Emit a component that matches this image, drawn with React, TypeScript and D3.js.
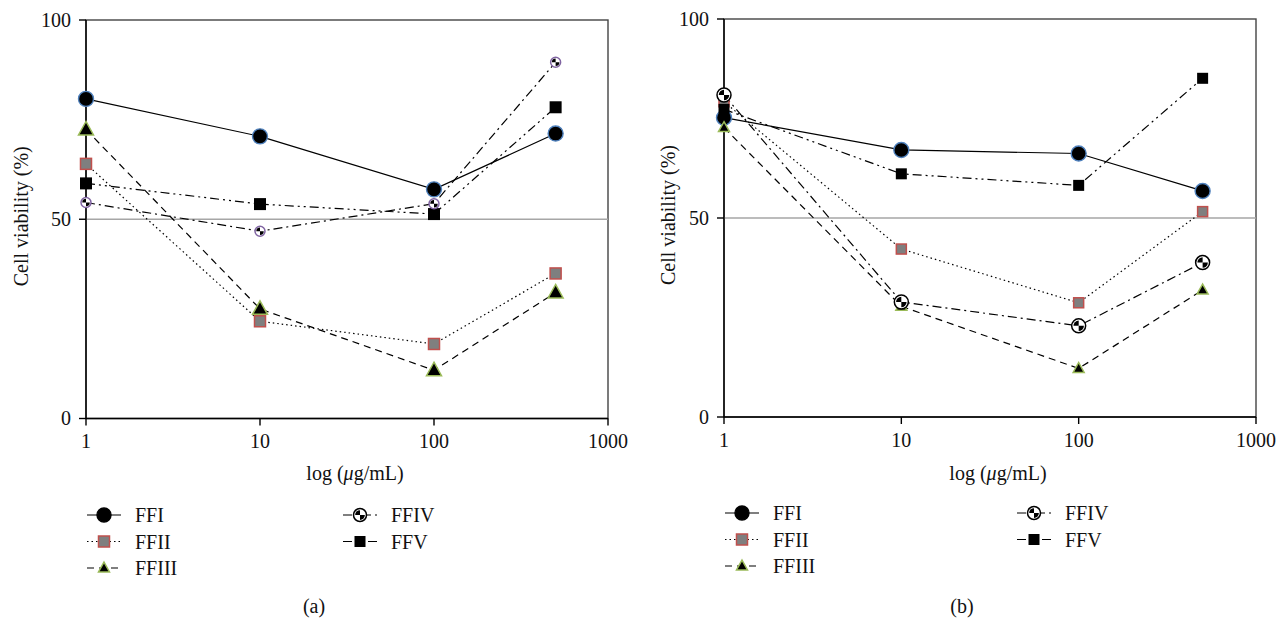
import React, { useEffect, useRef } from "react";
import * as d3 from "d3";

// concentrations (µg/mL) and axis ticks
const doses = [1, 10, 100, 500];
const xTicks = [1, 10, 100, 1000];
const yTicks = [0, 50, 100];
const names = ["FFI", "FFII", "FFIII", "FFIV", "FFV"];

// panel (a) cell viability (%)
const ffiA = [80.2, 70.8, 57.5, 71.5];
const ffiiA = [63.9, 24.4, 18.7, 36.4];
const ffiiiA = [72.5, 27.5, 12.1, 31.6];
const ffivA = [54.2, 47.0, 53.9, 89.4];
const ffvA = [59.0, 53.8, 51.3, 78.1];

// panel (b) cell viability (%)
const ffiB = [75.2, 67.1, 66.2, 56.8];
const ffiiB = [79.2, 42.2, 28.7, 51.6];
const ffiiiB = [72.7, 27.8, 12.2, 31.9];
const ffivB = [80.9, 28.9, 22.9, 38.8];
const ffvB = [77.3, 61.1, 58.2, 85.1];

const width = 1277;
const height = 619;
const font = "'Liberation Serif', 'Times New Roman', serif";

const dash = { FFI: null, FFII: "1.5,3", FFIII: "7,5", FFIV: "9,4,2,4", FFV: "9,4,2,4,2,4" };
const drawOrder = ["FFI", "FFII", "FFV", "FFIII", "FFIV"];

const panels = [
  {
    caption: "(a)",
    series: { FFI: ffiA, FFII: ffiiA, FFIII: ffiiiA, FFIV: ffivA, FFV: ffvA },
    left: 86, right: 608, top: 20, bottom: 418.5,
    yLabelX: 21, legendX: [87, 343], legendY: 515, sizes: "a",
  },
  {
    caption: "(b)",
    series: { FFI: ffiB, FFII: ffiiB, FFIII: ffiiiB, FFIV: ffivB, FFV: ffvB },
    left: 724, right: 1256, top: 19, bottom: 417,
    yLabelX: 668, legendX: [725, 1017], legendY: 513, sizes: "b",
  },
];

const sizeSets = {
  a: { FFI: 7.5, FFII: 11, FFIII: 15, FFIV: 5, FFV: 12 },
  b: { FFI: 7.5, FFII: 10, FFIII: 11, FFIV: 7, FFV: 11 },
  legend: { FFI: 7, FFII: 11, FFIII: 11, FFIV: 6.5, FFV: 11 },
};

function drawMarker(g, name, cx, cy, set, ivColor) {
  const s = sizeSets[set][name];
  if (name === "FFI") {
    g.append("circle").attr("cx", cx).attr("cy", cy).attr("r", s)
      .attr("fill", "#000").attr("stroke", set === "legend" ? "#000" : "#4f81bd").attr("stroke-width", 1.4);
  } else if (name === "FFII") {
    g.append("rect").attr("x", cx - s / 2).attr("y", cy - s / 2).attr("width", s).attr("height", s)
      .attr("fill", "#7f7f7f").attr("stroke", "#c0504d").attr("stroke-width", 1.5);
  } else if (name === "FFIII") {
    const h = s * 0.9;
    g.append("path")
      .attr("d", `M${cx},${cy - h * 0.6}L${cx + s / 2},${cy + h * 0.4}L${cx - s / 2},${cy + h * 0.4}Z`)
      .attr("fill", "#000").attr("stroke", "#9bbb59").attr("stroke-width", 1.5);
  } else if (name === "FFIV") {
    g.append("circle").attr("cx", cx).attr("cy", cy).attr("r", s)
      .attr("fill", "#fff").attr("stroke", ivColor).attr("stroke-width", 1.5);
    const arc = d3.arc().innerRadius(0).outerRadius(s * 0.75);
    [[-Math.PI / 2, 0], [Math.PI / 2, Math.PI]].forEach(([a0, a1]) => {
      g.append("path")
        .attr("transform", `translate(${cx},${cy})`)
        .attr("d", arc({ startAngle: a0, endAngle: a1 }))
        .attr("fill", "#000");
    });
  } else {
    g.append("rect").attr("x", cx - s / 2).attr("y", cy - s / 2).attr("width", s).attr("height", s)
      .attr("fill", "#000");
  }
}

const App = () => {
  const svgRef = useRef(null);

  useEffect(() => {
    const svg = d3.select(svgRef.current);
    svg.selectAll("*").remove();
    svg.append("rect").attr("width", width).attr("height", height).attr("fill", "#fff");

    panels.forEach((p) => {
      const x = d3.scaleLog().domain([1, 1000]).range([p.left, p.right]);
      const y = d3.scaleLinear().domain([0, 100]).range([p.bottom, p.top]);
      const g = svg.append("g");

      // frame
      g.append("rect").attr("x", p.left).attr("y", p.top)
        .attr("width", p.right - p.left).attr("height", p.bottom - p.top)
        .attr("fill", "none").attr("stroke", "#444").attr("stroke-width", 1.4);

      // 50% reference line
      g.append("line").attr("x1", p.left).attr("x2", p.right)
        .attr("y1", y(50)).attr("y2", y(50))
        .attr("stroke", "#a6a6a6").attr("stroke-width", 1.5);

      // axes
      g.append("line").attr("x1", p.left).attr("x2", p.left).attr("y1", p.top).attr("y2", p.bottom)
        .attr("stroke", "#000").attr("stroke-width", 1.4);
      g.append("line").attr("x1", p.left).attr("x2", p.right).attr("y1", p.bottom).attr("y2", p.bottom)
        .attr("stroke", "#000").attr("stroke-width", 1.4);

      yTicks.forEach((t) => {
        g.append("line").attr("x1", p.left - 7).attr("x2", p.left)
          .attr("y1", y(t)).attr("y2", y(t)).attr("stroke", "#000").attr("stroke-width", 1.4);
        g.append("text").attr("x", p.left - 15).attr("y", y(t)).attr("dy", "0.34em")
          .attr("text-anchor", "end").attr("font-family", font).attr("font-size", 20)
          .attr("fill", "#111").text(t);
      });

      xTicks.forEach((t) => {
        g.append("line").attr("x1", x(t)).attr("x2", x(t))
          .attr("y1", p.bottom).attr("y2", p.bottom + 7).attr("stroke", "#000").attr("stroke-width", 1.4);
        g.append("text").attr("x", x(t)).attr("y", p.bottom + 29.5)
          .attr("text-anchor", "middle").attr("font-family", font).attr("font-size", 20)
          .attr("fill", "#111").text(t);
      });

      // axis titles
      const midY = (p.top + p.bottom) / 2 - 3;
      g.append("text").attr("transform", `translate(${p.yLabelX + 7},${midY}) rotate(-90)`)
        .attr("text-anchor", "middle").attr("font-family", font).attr("font-size", 20)
        .attr("fill", "#111").text("Cell viability (%)");

      const xt = g.append("text").attr("x", (p.left + p.right) / 2 + 8).attr("y", 480)
        .attr("text-anchor", "middle").attr("font-family", font).attr("font-size", 20).attr("fill", "#111");
      xt.append("tspan").text("log (");
      xt.append("tspan").attr("font-style", "italic").text("μ");
      xt.append("tspan").text("g/mL)");

      // series lines
      const line = d3.line().x((d) => x(d[0])).y((d) => y(d[1]));
      names.forEach((n) => {
        const pts = doses.map((d, i) => [d, p.series[n][i]]);
        g.append("path").attr("d", line(pts)).attr("fill", "none")
          .attr("stroke", "#000").attr("stroke-width", 1.2)
          .attr("stroke-dasharray", dash[n]);
      });

      // markers
      const ivColor = p.sizes === "a" ? "#8064a2" : "#000";
      drawOrder.forEach((n) => {
        doses.forEach((d, i) => drawMarker(g, n, x(d), y(p.series[n][i]), p.sizes, ivColor));
      });

      // legend
      names.forEach((n, i) => {
        const col = i < 3 ? 0 : 1;
        const row = i < 3 ? i : i - 3;
        const lx = p.legendX[col];
        const ly = p.legendY + row * 26.5;
        g.append("line").attr("x1", lx).attr("x2", lx + 34).attr("y1", ly).attr("y2", ly)
          .attr("stroke", "#000").attr("stroke-width", 1.2).attr("stroke-dasharray", dash[n]);
        drawMarker(g, n, lx + 17, ly, "legend", "#000");
        g.append("text").attr("x", lx + 48).attr("y", ly + 7)
          .attr("font-family", font).attr("font-size", 20).attr("fill", "#111").text(n);
      });

      g.append("text").attr("x", p.caption === "(a)" ? 314 : 962).attr("y", 613)
        .attr("text-anchor", "middle").attr("font-family", font).attr("font-size", 20)
        .attr("fill", "#111").text(p.caption);
    });
  }, []);

  return (
    <svg ref={svgRef} width={width} height={height}
      style={{ position: "absolute", left: 0, top: 0, display: "block" }} />
  );
};

export default App;
